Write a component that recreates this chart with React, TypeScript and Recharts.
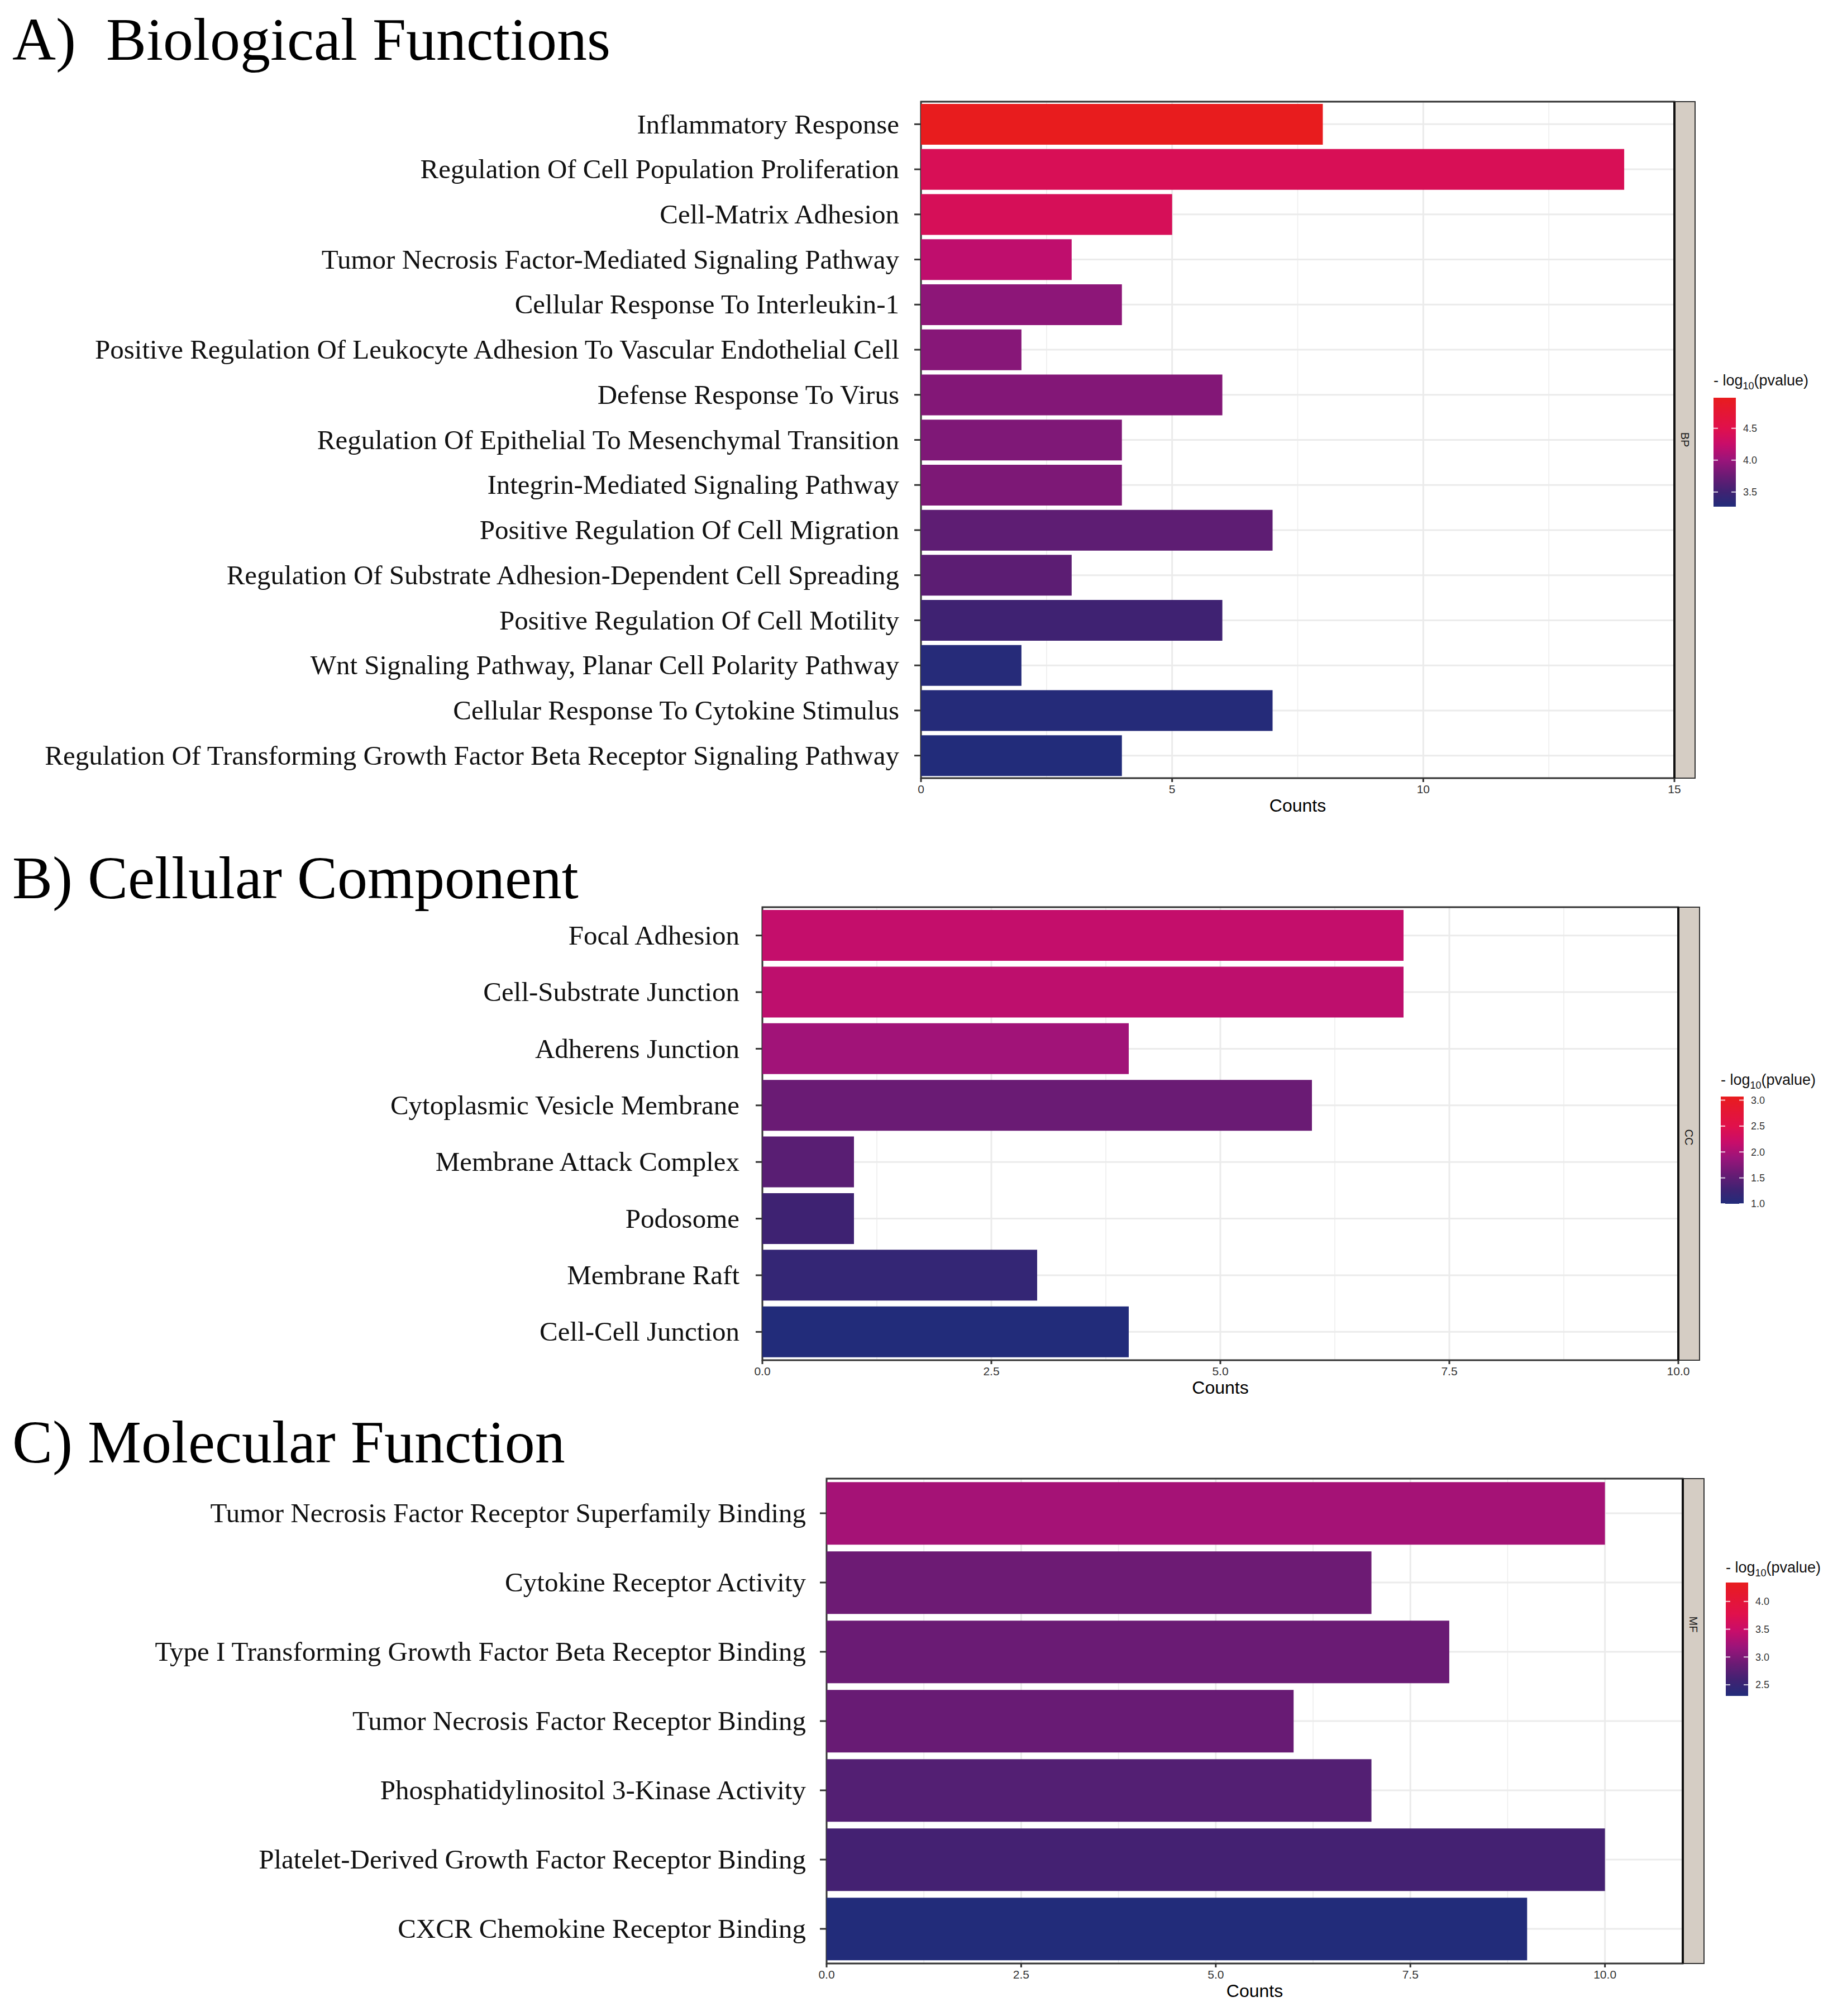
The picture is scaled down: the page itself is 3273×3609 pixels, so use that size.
import React from "react";
import {
  BarChart, Bar, XAxis, YAxis, CartesianGrid, Cell, Customized,
} from "recharts";

const SERIF = "'Liberation Serif', 'Times New Roman', serif";
const SANS = "'Liberation Sans', Arial, sans-serif";
const W = 3273;
const X_AXIS_H = 64;

// ---- A) Biological Functions ----
const bpTerms = [
  "Inflammatory Response",
  "Regulation Of Cell Population Proliferation",
  "Cell-Matrix Adhesion",
  "Tumor Necrosis Factor-Mediated Signaling Pathway",
  "Cellular Response To Interleukin-1",
  "Positive Regulation Of Leukocyte Adhesion To Vascular Endothelial Cell",
  "Defense Response To Virus",
  "Regulation Of Epithelial To Mesenchymal Transition",
  "Integrin-Mediated Signaling Pathway",
  "Positive Regulation Of Cell Migration",
  "Regulation Of Substrate Adhesion-Dependent Cell Spreading",
  "Positive Regulation Of Cell Motility",
  "Wnt Signaling Pathway, Planar Cell Polarity Pathway",
  "Cellular Response To Cytokine Stimulus",
  "Regulation Of Transforming Growth Factor Beta Receptor Signaling Pathway",
];
const bpCounts = [8, 14, 5, 3, 4, 2, 6, 4, 4, 7, 3, 6, 2, 7, 4];
const bpLogP = [4.98, 4.42, 4.4, 4.2, 3.93, 3.9, 3.88, 3.86, 3.85, 3.68, 3.67, 3.5, 3.3, 3.29, 3.27];
const bpTicks = [0, 5, 10, 15];
const bpMinor = [2.5, 7.5, 12.5];
const bpLegendTicks = [3.5, 4.0, 4.5];
const bpLegendRange = [3.27, 4.98];

// ---- B) Cellular Component ----
const ccTerms = [
  "Focal Adhesion",
  "Cell-Substrate Junction",
  "Adherens Junction",
  "Cytoplasmic Vesicle Membrane",
  "Membrane Attack Complex",
  "Podosome",
  "Membrane Raft",
  "Cell-Cell Junction",
];
const ccCounts = [7, 7, 4, 6, 1, 1, 3, 4];
const ccLogP = [2.16, 2.12, 1.93, 1.58, 1.46, 1.27, 1.17, 1.0];
const ccTicks = [0, 2.5, 5, 7.5, 10];
const ccMinor = [1.25, 3.75, 6.25, 8.75];
const ccLegendTicks = [1.0, 1.5, 2.0, 2.5, 3.0];
const ccLegendRange = [1.0, 3.07];

// ---- C) Molecular Function ----
const mfTerms = [
  "Tumor Necrosis Factor Receptor Superfamily Binding",
  "Cytokine Receptor Activity",
  "Type I Transforming Growth Factor Beta Receptor Binding",
  "Tumor Necrosis Factor Receptor Binding",
  "Phosphatidylinositol 3-Kinase Activity",
  "Platelet-Derived Growth Factor Receptor Binding",
  "CXCR Chemokine Receptor Binding",
];
const mfCounts = [10, 7, 8, 6, 7, 10, 9];
const mfLogP = [3.24, 2.89, 2.87, 2.86, 2.71, 2.61, 2.3];
const mfTicks = [0, 2.5, 5, 7.5, 10];
const mfMinor = [1.25, 3.75, 6.25, 8.75];
const mfLegendTicks = [2.5, 3.0, 3.5, 4.0];
const mfLegendRange = [2.3, 4.34];

// colour ramp low -> high
const rampStops: [number, string][] = [
  [0, "#222C7A"],
  [0.135, "#3F2272"],
  [0.28, "#6A1B74"],
  [0.427, "#9A147A"],
  [0.573, "#C80D6A"],
  [0.72, "#E0104C"],
  [1, "#E81C1E"],
];

function hexToRgb(h: string) {
  const n = parseInt(h.slice(1), 16);
  return [(n >> 16) & 255, (n >> 8) & 255, n & 255];
}

function ramp(t: number) {
  const tt = Math.max(0, Math.min(1, t));
  for (let i = 1; i < rampStops.length; i++) {
    const [t1, c1] = rampStops[i];
    if (tt <= t1) {
      const [t0, c0] = rampStops[i - 1];
      const f = (tt - t0) / (t1 - t0);
      const a = hexToRgb(c0), b = hexToRgb(c1);
      const m = a.map((v, k) => Math.round(v + (b[k] - v) * f));
      return `rgb(${m[0]},${m[1]},${m[2]})`;
    }
  }
  return rampStops[rampStops.length - 1][1];
}

const panels = [
  {
    id: "bp", title: "A)  Biological Functions", titleY: 107, top: 0, height: 1500,
    terms: bpTerms, counts: bpCounts, logp: bpLogP, ticks: bpTicks, minor: bpMinor,
    domain: [0, 15], fmt: (v: number) => String(v),
    margin: { top: 182, right: 3273 - 2998, bottom: 1500 - 1393 - X_AXIS_H, left: 0 },
    yWidth: 1649, tickMargin: 27, strip: "BP", stripW: 37, stripY: 787,
    legend: { x: 3068, titleY: 690, y0: 712, y1: 907, w: 40, ticks: bpLegendTicks, range: bpLegendRange },
  },
  {
    id: "cc", title: "B) Cellular Component", titleY: 108, top: 1500, height: 1020,
    terms: ccTerms, counts: ccCounts, logp: ccLogP, ticks: ccTicks, minor: ccMinor,
    domain: [0, 10], fmt: (v: number) => v.toFixed(1),
    margin: { top: 124, right: 3273 - 3005, bottom: 1020 - 935 - X_AXIS_H, left: 0 },
    yWidth: 1365, tickMargin: 29, strip: "CC", stripW: 38, stripY: 536,
    legend: { x: 3081, titleY: 442, y0: 463, y1: 655, w: 41, ticks: ccLegendTicks, range: ccLegendRange },
  },
  {
    id: "mf", title: "C) Molecular Function", titleY: 98, top: 2520, height: 1089,
    terms: mfTerms, counts: mfCounts, logp: mfLogP, ticks: mfTicks, minor: mfMinor,
    domain: [0, 11], fmt: (v: number) => v.toFixed(1),
    margin: { top: 127, right: 3273 - 3013, bottom: 1089 - 995 - X_AXIS_H, left: 0 },
    yWidth: 1480, tickMargin: 25, strip: "MF", stripW: 38, stripY: 388,
    legend: { x: 3090, titleY: 295, y0: 313, y1: 516, w: 40, ticks: mfLegendTicks, range: mfLegendRange },
  },
];

function CategoryTick(props: any) {
  const { x, y, payload } = props;
  return (
    <text x={x} y={y} dy="0.33em" textAnchor="end" fontFamily={SERIF} fontSize={49} fill="#111">
      {payload.value}
    </text>
  );
}

function Overlay({ p }: { p: any }) {
  const left = p.yWidth;
  const right = W - p.margin.right;
  const top = p.margin.top;
  const bottom = p.height - p.margin.bottom - X_AXIS_H;
  const lg = p.legend;
  const [lo, hi] = lg.range;
  const ly = (v: number) => lg.y1 - ((v - lo) / (hi - lo)) * (lg.y1 - lg.y0);
  const gid = `grad-${p.id}`;
  return (
    <g>
      <text x={22} y={p.titleY} fontFamily={SERIF} fontSize={108} fill="#000" style={{ whiteSpace: "pre" }}>
        {p.title}
      </text>
      <rect x={left} y={top} width={right - left} height={bottom - top} fill="none" stroke="#333" strokeWidth={3} />
      <rect x={right} y={top} width={p.stripW} height={bottom - top} fill="#D5CDC4" stroke="#333" strokeWidth={2} />
      <line x1={right} x2={right} y1={top} y2={bottom} stroke="#111" strokeWidth={4} />
      <text
        x={right + p.stripW / 2} y={p.stripY} textAnchor="middle" dominantBaseline="central"
        fontFamily={SANS} fontSize={20} fill="#1a1a1a"
        transform={`rotate(90, ${right + p.stripW / 2}, ${p.stripY})`}
      >
        {p.strip}
      </text>
      <defs>
        <linearGradient id={gid} x1="0" y1="0" x2="0" y2="1">
          {rampStops.map(([t, c]) => (
            <stop key={t} offset={`${(1 - t) * 100}%`} stopColor={c} />
          )).reverse()}
        </linearGradient>
      </defs>
      <text x={lg.x} y={lg.titleY} fontFamily={SANS} fontSize={27} fill="#111">
        <tspan>- log</tspan>
        <tspan fontSize={18} dy={7}>10</tspan>
        <tspan dy={-7}>(pvalue)</tspan>
      </text>
      <rect x={lg.x} y={lg.y0} width={lg.w} height={lg.y1 - lg.y0} fill={`url(#${gid})`} />
      {lg.ticks.map((v: number) => (
        <g key={v}>
          <line x1={lg.x} x2={lg.x + 8} y1={ly(v)} y2={ly(v)} stroke="#fff" strokeOpacity={0.8} strokeWidth={2} />
          <line x1={lg.x + lg.w - 8} x2={lg.x + lg.w} y1={ly(v)} y2={ly(v)} stroke="#fff" strokeOpacity={0.8} strokeWidth={2} />
          <text x={lg.x + lg.w + 13} y={ly(v)} dy="0.35em" fontFamily={SANS} fontSize={18} fill="#333">
            {v.toFixed(1)}
          </text>
        </g>
      ))}
    </g>
  );
}

function Panel({ p }: { p: any }) {
  const data = p.terms.map((t: string, i: number) => ({ term: t, count: p.counts[i], logp: p.logp[i] }));
  const [lo, hi] = p.legend.range;
  return (
    <div style={{ position: "absolute", left: 0, top: p.top }}>
      <BarChart width={W} height={p.height} data={data} layout="vertical" margin={p.margin} barCategoryGap="5%">
        {/* minor vertical grid */}
        <CartesianGrid stroke="#EDEDED" strokeWidth={1.5} horizontal={false} verticalValues={p.minor} />
        {/* major grid */}
        <CartesianGrid stroke="#EBEBEB" strokeWidth={3} />
        <XAxis
          type="number" dataKey="count" domain={p.domain} ticks={p.ticks} height={X_AXIS_H}
          tickFormatter={p.fmt} axisLine={false} tickSize={7} tickMargin={5}
          tickLine={{ stroke: "#333", strokeWidth: 3 }}
          tick={{ fontFamily: SANS, fontSize: 21, fill: "#333" }}
          label={{ value: "Counts", position: "insideBottom", offset: 4, fontFamily: SANS, fontSize: 32, fill: "#000" }}
        />
        <YAxis
          type="category" dataKey="term" width={p.yWidth} interval={0} axisLine={false}
          tickSize={12} tickMargin={p.tickMargin} tickLine={{ stroke: "#333", strokeWidth: 3 }}
          tick={<CategoryTick />}
        />
        <Bar dataKey="count" isAnimationActive={false}>
          {data.map((d: any, i: number) => (
            <Cell key={i} fill={ramp((d.logp - lo) / (hi - lo))} />
          ))}
        </Bar>
        <Customized component={<Overlay p={p} />} />
      </BarChart>
    </div>
  );
}

export default function App() {
  return (
    <div style={{ position: "relative", width: W, height: 3609, background: "#fff" }}>
      <style>{"body{margin:0;background:#fff}"}</style>
      {panels.map((p) => (
        <Panel key={p.id} p={p} />
      ))}
    </div>
  );
}
